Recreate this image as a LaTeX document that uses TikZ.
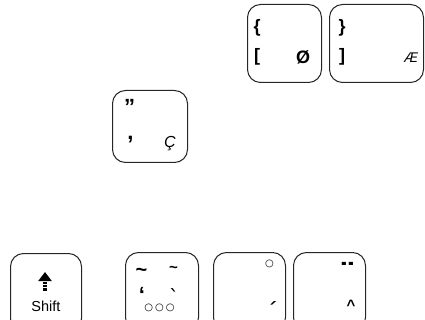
\documentclass[tikz,border=0pt]{standalone}
\usepackage{fontspec}
\setmainfont{Liberation Sans}
\newfontfamily\dejavu{DejaVu Sans}
\usetikzlibrary{positioning, calc, arrows.meta}

\begin{document}
\begin{tikzpicture}[
    x=1pt, y=-1pt,
    keycap/.style={draw=black!85, line width=1pt, rounded corners=13pt,
      minimum width=73pt, minimum height=78pt, inner sep=0pt},
    sym/.style={inner sep=0pt, font=\bfseries\fontsize{18}{18}\selectfont},
    ital/.style={inner sep=0pt, font=\itshape\fontsize{14}{14}\selectfont},
    dia/.style={inner sep=0pt, font=\dejavu\fontsize{20}{20}\selectfont},
    ring/.style={inner sep=0pt, font=\dejavu\fontsize{10}{10}\selectfont}
]
\useasboundingbox (0,0) rectangle (425,320);
\clip (0,0) rectangle (425,320);

\node[keycap, minimum width=74pt, anchor=north west] (lbrack) at (247,4) {};
\node[keycap, minimum width=94pt, right=7pt of lbrack] (rbrack) {};
\node[keycap, minimum width=75pt, minimum height=72pt, anchor=north west] (comma) at (112,90) {};
\node[keycap, minimum width=71pt, anchor=north west] (shift) at (10,253) {};
\node[keycap, anchor=north west] (tilde) at (125,252) {};
\node[keycap, minimum width=72pt, right=14pt of tilde] (ringkey) {};
\node[keycap, minimum width=72pt, right=7pt of ringkey] (uml) {};

\node[sym] (lbrace) at ($(lbrack.north west)+(10,23.5)$) {\{};
\node[sym] (lsq) at ($(lbrack.north west)+(10,53)$) {[};
\node[sym] (oslash) at ($(lbrack.north west)+(56,53)$) {Ø};

\node[sym] (rbrace) at ($(rbrack.north west)+(13,23.5)$) {\}};
\node[sym] (rsq) at ($(rbrack.north west)+(13,53)$) {]};
\node[ital] (ae) at ($(rbrack.north west)+(82,53.5)$) {Æ};

\node[sym, font=\bfseries\fontsize{22}{22}\selectfont] (quotes)
  at ($(comma.north west)+(17.5,16.5)$) {”};
\node[sym, font=\bfseries\fontsize{22}{22}\selectfont] (comm)
  at ($(comma.north west)+(18.5,50)$) {,};
\node[ital, font=\itshape\fontsize{16}{16}\selectfont] (cced)
  at ($(comma.north west)+(58,54)$) {Ç};

\coordinate (arrowtop) at ($(shift.north west)+(35,19)$);
\coordinate (arrowbot) at ($(shift.north west)+(35,37.5)$);
\draw[line width=4.5pt, dash pattern=on 2.2pt off 1pt,
  -{Triangle[width=13pt,length=9pt]}] (arrowbot) -- (arrowtop);
\node[inner sep=0pt, font=\fontsize{14.5}{14.5}\selectfont] (shifttext)
  at ($(shift.north west)+(36,53)$) {Shift};

\node[sym, font=\bfseries\fontsize{20}{20}\selectfont] (tilde1)
  at ($(tilde.north west)+(16.5,20)$) {\textasciitilde};
\node[sym, font=\bfseries\fontsize{15}{15}\selectfont] (tilde2)
  at ($(tilde.north west)+(48.5,17.5)$) {\textasciitilde};
\node[sym, font=\bfseries\fontsize{22}{22}\selectfont] (turned)
  at ($(tilde.north west)+(17,43)$) {‘};
\node[dia] (grave) at ($(tilde.north west)+(49,45)$) {`};
\node[ring] (rings) at ($(tilde.north west)+(34.5,56)$) {○\hspace{2pt}○\hspace{2pt}○};

\node[ring] (ringmark) at ($(ringkey.north west)+(56.5,11.5)$) {○};
\node[dia, xscale=1.3] (acute) at ($(ringkey.north west)+(59,57.5)$) {´};

\node[sym, font=\dejavu\bfseries\fontsize{26}{26}\selectfont, xscale=1.4] (dots)
  at ($(uml.north west)+(54.5,20)$) {¨};
\node[sym, font=\bfseries\fontsize{15}{15}\selectfont] (caret)
  at ($(uml.north west)+(58,53)$) {\textasciicircum};
\end{tikzpicture}
\end{document}
